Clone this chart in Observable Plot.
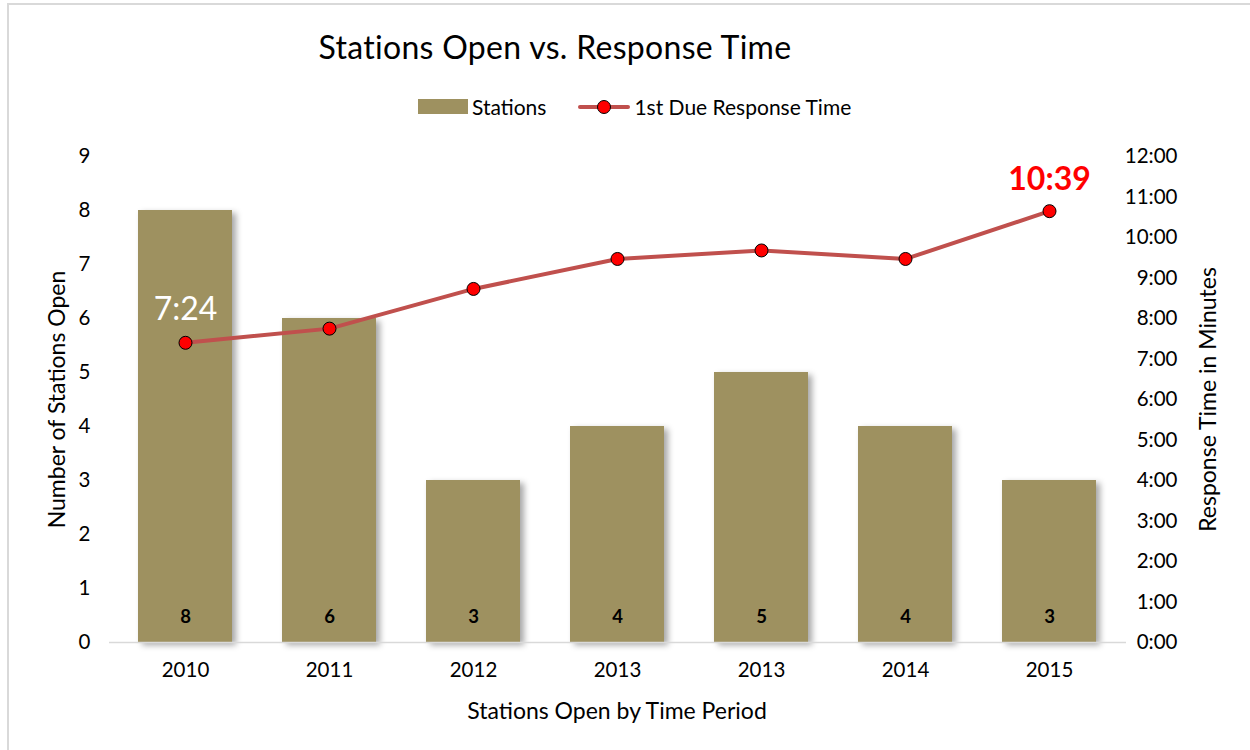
<!DOCTYPE html>
<html>
<head>
<meta charset="utf-8">
<script src="https://cdn.jsdelivr.net/npm/d3@7"></script>
<script src="https://cdn.jsdelivr.net/npm/@observablehq/plot@0.6"></script>
<style>
  html, body { margin: 0; padding: 0; background: #fff; }
  #wrap { position: relative; width: 1250px; height: 750px; overflow: hidden; font-family: Lato, "Open Sans", "Noto Sans", sans-serif; color: #000; }
  #frame { position: absolute; left: 7px; top: 3px; width: 1260px; height: 760px; border-left: 2px solid #d9d9d9; border-top: 2px solid #d9d9d9; }
  #title { position: absolute; left: 0; width: 1110px; top: 27px; text-align: center; font-size: 32px; letter-spacing: 0.3px; }
  #legend { position: absolute; top: 94px; left: 418px; font-size: 21px; display: flex; align-items: center; }
  .sw { display: inline-block; width: 50px; height: 15px; background: #9e9160; margin-right: 4px; }
  .ln { display: inline-block; position: relative; width: 52px; height: 16px; margin-left: 32px; margin-right: 4px; }
  .ln::before { content: ""; position: absolute; left: 0; right: 0; top: 6px; height: 4px; background: #c0504d; border-radius: 2px; }
  .ln::after { content: ""; position: absolute; left: 19px; top: 1px; width: 12px; height: 12px; border-radius: 50%; background: #ff0000; border: 1px solid #000; }
  #chart { position: absolute; left: 0; top: 130px; }
  .bars rect { filter: drop-shadow(4px 3px 3px rgba(0,0,0,0.35)); }
</style>
</head>
<body>
<div id="wrap">
  <div id="frame"></div>
  <div id="title">Stations Open vs. Response Time</div>
  <div id="legend"><span class="sw"></span><span>Stations</span><span class="ln"></span><span>1st Due Response Time</span></div>
  <div id="chart"></div>
</div>
<script>
// Data
const periods = ["2010", "2011", "2012", "2013", "2013", "2014", "2015"];
const stations = [8, 6, 3, 4, 5, 4, 3];
// Response time in minutes (decimal)
const responseMinutes = [7.4, 7.75, 8.73, 9.47, 9.68, 9.47, 10.65];
const responseLabels = ["7:24", "", "", "", "", "", "10:39"];
const rightTicks = [0, 1, 2, 3, 4, 5, 6, 7, 8, 9, 10, 11, 12];
const leftTicks = [0, 1, 2, 3, 4, 5, 6, 7, 8, 9];

const keys = periods.map((p, i) => i);
const ratio = 9 / 12; // stations per minute for the dual axis
const rows = keys.map(i => ({
  key: i,
  period: periods[i],
  stations: stations[i],
  minutes: responseMinutes[i],
  yLine: responseMinutes[i] * ratio,
  label: responseLabels[i]
}));

const font = "Lato, 'Open Sans', 'Noto Sans', sans-serif";

const chart = Plot.plot({
  width: 1250,
  height: 620,
  marginLeft: 111,
  marginRight: 128,
  marginTop: 26,
  marginBottom: 108,
  style: { fontFamily: font, fontSize: "20px", color: "#000", background: "transparent", overflow: "visible" },
  x: { type: "band", domain: keys, paddingInner: 0.35, paddingOuter: 0.175, align: 0.5 },
  y: { domain: [0, 9] },
  marks: [
    Plot.axisX({ tickSize: 0, tickPadding: 20, tickFormat: i => periods[i], fontSize: 20.5, label: null }),
    Plot.text(["Stations Open by Time Period"], { frameAnchor: "bottom", lineAnchor: "middle", dy: 69, fontSize: 23, text: d => d }),
    Plot.axisY({ ticks: leftTicks, tickSize: 0, tickPadding: 21, fontSize: 20.5, label: null, tickFormat: d => String(d) }),
    Plot.text(["Number of Stations Open"], { frameAnchor: "left", textAnchor: "middle", dx: -54, rotate: -90, fontSize: 23, text: d => d }),
    Plot.axisY({ anchor: "right", ticks: rightTicks.map(t => t * ratio), tickSize: 0, tickPadding: 0, textAnchor: "end", dx: 55, fontSize: 20.5, label: null, tickFormat: d => `${Math.round(d / ratio)}:00` }),
    Plot.text(["Response Time in Minutes"], { frameAnchor: "right", textAnchor: "middle", dx: 86, rotate: -90, fontSize: 23, text: d => d }),
    Plot.barY(rows, { x: "key", y: "stations", fill: "#9e9160", className: "bars" }),
    Plot.ruleY([0], { stroke: "#d9d9d9", strokeWidth: 1.5, insetLeft: -2, insetRight: -4 }),
    Plot.text(rows, { x: "key", y: 0, text: d => String(d.stations), dy: -25, fontWeight: "bold", fontSize: 18.5, fill: "#000" }),
    Plot.line(rows, { x: "key", y: "yLine", stroke: "#c0504d", strokeWidth: 4, strokeLinejoin: "round" }),
    Plot.dot(rows, { x: "key", y: "yLine", r: 6.5, fill: "#ff0000", stroke: "#000", strokeWidth: 1 }),
    Plot.text(rows.filter(d => d.key === 0), { x: "key", y: "yLine", text: "label", dy: -33, fill: "#ffffff", fontSize: 32 }),
    Plot.text(rows.filter(d => d.key === 6), { x: "key", y: "yLine", text: "label", dy: -31, fill: "#ff0000", fontSize: 32, fontWeight: "bold" })
  ]
});
document.getElementById("chart").appendChild(chart);
</script>
</body>
</html>
